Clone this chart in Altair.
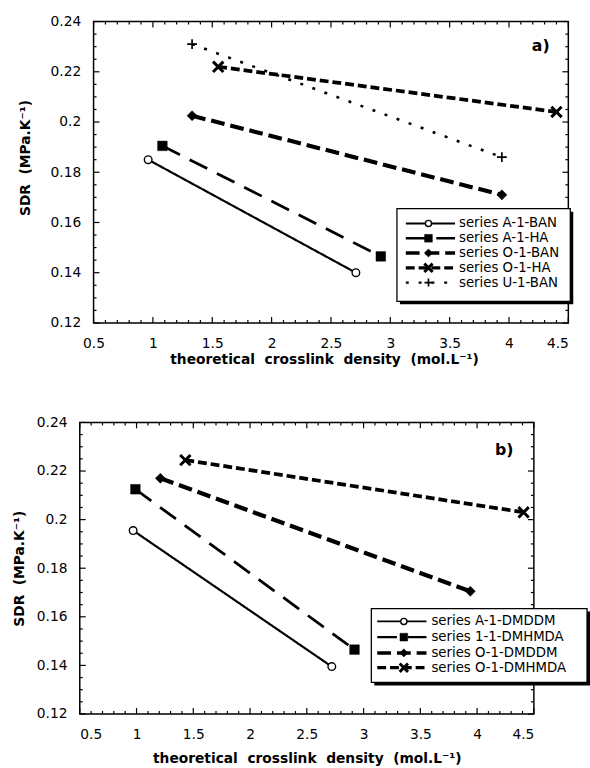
import altair as alt
import pandas as pd

# ---------------- data ----------------
x_major = [0.5, 1.0, 1.5, 2.0, 2.5, 3.0, 3.5, 4.0, 4.5]
y_major = [0.12, 0.14, 0.16, 0.18, 0.20, 0.22, 0.24]

a_names = ["series A-1-BAN", "series A-1-HA", "series O-1-BAN", "series O-1-HA", "series U-1-BAN"]
a_x = [[0.96, 2.71], [1.08, 2.92], [1.33, 3.94], [1.55, 4.40], [1.33, 3.94]]
a_y = [[0.185, 0.140], [0.1905, 0.1465], [0.2025, 0.171], [0.222, 0.204], [0.231, 0.186]]

b_names = ["series A-1-DMDDM", "series 1-1-DMHMDA", "series O-1-DMDDM", "series O-1-DMHMDA"]
b_x = [[0.97, 2.72], [0.99, 2.92], [1.21, 3.94], [1.43, 4.41]]
b_y = [[0.1955, 0.1395], [0.2125, 0.1465], [0.217, 0.1705], [0.2245, 0.203]]

x_minor = [round(0.5 + 0.1 * i, 2) for i in range(41)]
x_minor = [v for v in x_minor if all(abs(v - m) > 1e-6 for m in x_major)]
y_minor = [round(0.12 + 0.005 * i, 3) for i in range(25)]
y_minor = [v for v in y_minor if all(abs(v - m) > 1e-6 for m in y_major)]

FONT = "DejaVu Sans"
XTITLE = "theoretical\u00a0 crosslink\u00a0 density\u00a0 (mol.L\u207b\u00b9)"
YTITLE = "SDR\u00a0 (MPa.K\u207b\u00b9)"

XPATH = "M-1,-1L1,1M-1,1L1,-1"
PLUS = "M-1,0L1,0M0,-1L0,1"

styles = {
    "circle": dict(dash=[1, 0], sw=2.2),
    "square": dict(dash=[20, 11], sw=2.8),
    "diamond": dict(dash=[14, 6], sw=4.2),
    "x": dict(dash=[9, 4], sw=3.8),
    "plus": dict(dash=[3, 10], sw=2.6),
}


def marker_kw(kind, s=1.0):
    if kind == "circle":
        return dict(shape="circle", filled=True, fill="white", stroke="black", strokeWidth=1.4, size=60 * s, opacity=1)
    if kind == "square":
        return dict(shape="square", filled=True, fill="black", stroke="black", strokeWidth=0.5, size=95 * s, opacity=1)
    if kind == "diamond":
        return dict(shape="diamond", filled=True, fill="black", stroke="black", strokeWidth=0.5, size=105 * s, opacity=1)
    if kind == "x":
        return dict(shape=XPATH, filled=False, stroke="black", strokeWidth=3.0, size=110 * s, opacity=1)
    return dict(shape=PLUS, filled=False, stroke="black", strokeWidth=1.7, size=100 * s, opacity=1)


one = pd.DataFrame({"k": [0]})


def panel(names, xs_list, ys_list, kinds, x_lo, W, H, frame_left, y_off, ytitle_pad, xtitle_pad, ytitle_y,
          box, rows, line_x, mark_x, text_x, tag, tag_xy):
    xscale = alt.Scale(domain=[x_lo, 4.5], nice=False, zero=False)
    yscale = alt.Scale(domain=[0.12, 0.24], nice=False, zero=False)
    xaxis = alt.Axis(values=x_major, format="~g", ticks=False, domain=False, grid=False,
                     labelPadding=14, titlePadding=xtitle_pad)
    yaxis = alt.Axis(values=y_major, format="~g", ticks=False, domain=False, grid=False,
                     labelPadding=13, titlePadding=ytitle_pad, offset=y_off, titleY=ytitle_y)

    def X(f):
        return alt.X(f, type="quantitative", scale=xscale, axis=xaxis, title=XTITLE)

    def Y(f):
        return alt.Y(f, type="quantitative", scale=yscale, axis=yaxis, title=YTITLE)

    layers = []
    # frame
    layers.append(alt.Chart(one).mark_rect(fillOpacity=0, stroke="black", strokeWidth=1.5).encode(
        x=alt.value(frame_left), x2=alt.value(W), y=alt.value(0), y2=alt.value(H)))
    # inward ticks
    for vals, L in [(x_major, 6), (x_minor, 3)]:
        d = pd.DataFrame({"xv": vals})
        layers.append(alt.Chart(d).mark_rule(strokeWidth=1.2, color="black").encode(
            x=X("xv"), y=alt.value(H), y2=alt.value(H - L)))
        layers.append(alt.Chart(d).mark_rule(strokeWidth=1.2, color="black").encode(
            x=X("xv"), y=alt.value(0), y2=alt.value(L)))
    for vals, L in [(y_major, 6), (y_minor, 3)]:
        d = pd.DataFrame({"yv": vals})
        layers.append(alt.Chart(d).mark_rule(strokeWidth=1.2, color="black").encode(
            y=Y("yv"), x=alt.value(frame_left), x2=alt.value(frame_left + L)))
        layers.append(alt.Chart(d).mark_rule(strokeWidth=1.2, color="black").encode(
            y=Y("yv"), x=alt.value(W), x2=alt.value(W - L)))
    # series
    for name, xs, ys, kind in zip(names, xs_list, ys_list, kinds):
        st = styles[kind]
        d = pd.DataFrame({"xv": xs, "yv": ys})
        layers.append(alt.Chart(d).mark_line(color="black", strokeWidth=st["sw"], strokeDash=st["dash"]).encode(
            x=X("xv"), y=Y("yv")))
        layers.append(alt.Chart(d).mark_point(**marker_kw(kind)).encode(x=X("xv"), y=Y("yv")))
    # legend box
    bx0, bx1, by0, by1 = box
    layers.append(alt.Chart(one).mark_rect(fill="black").encode(
        x=alt.value(bx0 + 3), x2=alt.value(bx1 + 3), y=alt.value(by0 + 3), y2=alt.value(by1 + 3)))
    layers.append(alt.Chart(one).mark_rect(fill="white", stroke="black", strokeWidth=1.3).encode(
        x=alt.value(bx0), x2=alt.value(bx1), y=alt.value(by0), y2=alt.value(by1)))
    for name, kind, ry in zip(names, kinds, rows):
        st = styles[kind]
        layers.append(alt.Chart(one).mark_rule(color="black", strokeWidth=st["sw"] * 0.85, strokeDash=st["dash"]).encode(
            x=alt.value(line_x[0]), x2=alt.value(line_x[1]), y=alt.value(ry)))
        layers.append(alt.Chart(one).mark_point(**marker_kw(kind, 0.65)).encode(
            x=alt.value(mark_x), y=alt.value(ry)))
        layers.append(alt.Chart(one).mark_text(align="left", baseline="middle", font=FONT, fontSize=13.5,
                                               color="black").encode(
            x=alt.value(text_x), y=alt.value(ry), text=alt.value(name)))
    # panel tag
    layers.append(alt.Chart(one).mark_text(align="center", baseline="middle", font=FONT, fontSize=16,
                                           fontWeight="bold", color="black").encode(
        x=alt.value(tag_xy[0]), y=alt.value(tag_xy[1]), text=alt.value(tag)))
    return alt.layer(*layers).properties(width=W, height=H)


pa = panel(a_names, a_x, a_y, ["circle", "square", "diamond", "x", "plus"],
           x_lo=0.5 - 14 * 4 / 482, W=496, H=306, frame_left=14, y_off=-14, ytitle_pad=18, xtitle_pad=2,
           ytitle_y=138,
           box=(322, 498, 190, 284), rows=[205, 220, 235, 250, 265],
           line_x=(331, 381), mark_x=354, text_x=385, tag="a)", tag_xy=(468, 25))

pb = panel(b_names, b_x, b_y, ["circle", "square", "diamond", "x"],
           x_lo=0.5, W=461, H=296, frame_left=0, y_off=0, ytitle_pad=10, xtitle_pad=10,
           ytitle_y=148,
           box=(296, 515, 189, 264), rows=[202, 218, 234, 249],
           line_x=(302, 352), mark_x=329, text_x=357, tag="b)", tag_xy=(431, 28))

chart = alt.vconcat(pa, pb, spacing=50).properties(
    padding={"left": 12, "top": 9, "right": 0, "bottom": 0}
).configure_view(stroke=None).configure_axis(
    labelFont=FONT, labelFontSize=14, labelColor="black",
    titleFont=FONT, titleFontSize=14, titleFontWeight="bold", titleColor="black"
)

chart.save("out.html", embed_options={"renderer": "svg", "actions": False})
